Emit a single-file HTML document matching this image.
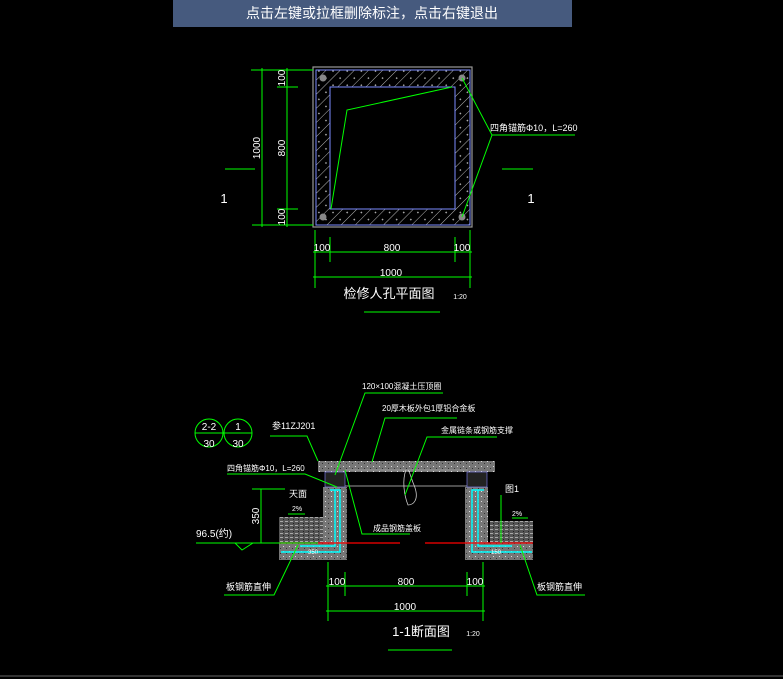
<!DOCTYPE html>
<html><head><meta charset="utf-8"><style>
html,body{margin:0;padding:0;background:#000;width:783px;height:679px;overflow:hidden}
svg{display:block}
text{font-family:"Liberation Sans","Noto Sans CJK SC",sans-serif;fill:#fff}
</style></head><body>
<svg width="783" height="679" viewBox="0 0 783 679" xmlns="http://www.w3.org/2000/svg">
<defs>
<pattern id="h" width="10" height="10" patternUnits="userSpaceOnUse" patternTransform="rotate(45)">
<line x1="0" y1="0" x2="0" y2="10" stroke="#ccc" stroke-width="0.9"/>
<rect x="5" y="4" width="1.5" height="1.5" fill="#aaa"/>
</pattern>
<pattern id="d" width="6" height="5" patternUnits="userSpaceOnUse">
<rect width="6" height="5" fill="#777"/><rect x="1" y="1" width="1" height="1" fill="#ddd"/><rect x="4" y="3" width="1" height="1" fill="#333"/>
</pattern>
<pattern id="s" width="5" height="4" patternUnits="userSpaceOnUse">
<rect width="5" height="4" fill="#555"/><rect x="0" y="1" width="3" height="1" fill="#aaa"/><rect x="3" y="3" width="1" height="1" fill="#222"/>
</pattern>
</defs>
<rect x="173" y="0" width="399" height="27" fill="#465a7e"/>
<text x="372" y="18" font-size="14" text-anchor="middle">点击左键或拉框删除标注，点击右键退出</text>

<!-- PLAN -->
<g>
<path d="M316 70H470V225H316Z M330 87V209H455V87Z" fill="url(#h)" fill-rule="evenodd"/>
<rect x="313" y="67" width="159" height="160" fill="none" stroke="#999" stroke-width="1.2"/>
<rect x="316" y="70" width="154" height="155" fill="none" stroke="#7b8cff" stroke-width="1"/>
<rect x="330" y="87" width="125" height="122" fill="none" stroke="#7b8cff" stroke-width="1"/>
<g fill="#888"><circle cx="323" cy="78" r="3.5"/><circle cx="462" cy="78" r="3.5"/><circle cx="323" cy="217" r="3.5"/><circle cx="462" cy="217" r="3.5"/></g>
<g stroke="#0f0" stroke-width="1" fill="none">
<polyline points="452,87 347,110 331,209"/>
<polyline points="462,78 492,135 462,217"/><line x1="492" y1="135" x2="575" y2="135"/>
<line x1="251" y1="70" x2="313" y2="70"/><line x1="277" y1="87" x2="298" y2="87"/>
<line x1="277" y1="209" x2="298" y2="209"/><line x1="252" y1="225" x2="313" y2="225"/>
<line x1="262" y1="68" x2="262" y2="227"/><line x1="287" y1="68" x2="287" y2="227"/>
<line x1="315" y1="230" x2="315" y2="288"/><line x1="330" y1="237" x2="330" y2="262"/>
<line x1="455" y1="237" x2="455" y2="262"/><line x1="470" y1="230" x2="470" y2="288"/>
<line x1="313" y1="252" x2="472" y2="252"/><line x1="313" y1="277" x2="472" y2="277"/>
<line x1="225" y1="169" x2="255" y2="169"/><line x1="502" y1="169" x2="533" y2="169"/>
<line x1="364" y1="312" x2="440" y2="312"/>
</g>
<g font-size="10">
<text transform="translate(260,148) rotate(-90)" text-anchor="middle">1000</text>
<text transform="translate(285,148) rotate(-90)" text-anchor="middle">800</text>
<text transform="translate(285,78) rotate(-90)" text-anchor="middle">100</text>
<text transform="translate(285,217) rotate(-90)" text-anchor="middle">100</text>
<text x="322" y="251" text-anchor="middle">100</text>
<text x="392" y="251" text-anchor="middle">800</text>
<text x="462" y="251" text-anchor="middle">100</text>
<text x="391" y="276" text-anchor="middle">1000</text>
<text x="490" y="131" font-size="9">四角锚筋Φ10，L=260</text>
</g>
<text x="224" y="203" font-size="13" text-anchor="middle">1</text>
<text x="531" y="203" font-size="13" text-anchor="middle">1</text>
<text x="389" y="298" font-size="13" text-anchor="middle">检修人孔平面图</text>
<text x="460" y="299" font-size="7" text-anchor="middle">1:20</text>
</g>

<!-- SECTION -->
<g>
<rect x="318" y="461" width="177" height="11" fill="url(#d)"/>
<g stroke="#999" stroke-width="1"><line x1="345" y1="470" x2="468" y2="470"/><line x1="345" y1="486" x2="468" y2="486"/></g>
<rect x="279" y="517" width="44" height="26" fill="url(#s)"/>
<rect x="490" y="521" width="43" height="22" fill="url(#s)"/>
<path d="M323 487H347V560H279V543H323Z" fill="url(#d)"/>
<path d="M465 487H488V543H533V560H465Z" fill="url(#d)"/>
<rect x="325" y="472" width="20" height="15" fill="#222" stroke="#88f" stroke-width="0.6"/>
<rect x="467" y="472" width="20" height="15" fill="#222" stroke="#88f" stroke-width="0.6"/>
<g stroke="#0ff" stroke-width="1.5" fill="none">
<polyline points="330,490 340,490 340,552 281,552"/><polyline points="335,490 335,546 300,546"/>
<polyline points="484,490 472,490 472,552 532,552"/><polyline points="478,490 478,546 512,546"/>
</g>
<g stroke="#f00" stroke-width="1.2"><line x1="279" y1="543" x2="400" y2="543"/><line x1="425" y1="543" x2="533" y2="543"/></g>
<g stroke="#ccc" fill="none" stroke-width="0.8"><path d="M406 470C402 480 404 495 408 505C413 505 420 500 414 485C411 478 410 472 408 470"/></g>
<g stroke="#0f0" stroke-width="1" fill="none">
<circle cx="209" cy="433" r="14"/><circle cx="238" cy="433" r="14"/>
<line x1="195" y1="433" x2="252" y2="433"/>
<polyline points="270,436 307,436 318,461"/>
<polyline points="443,393 365,393 335,475"/>
<polyline points="457,418 385,418 372,462"/>
<polyline points="497,437 427,437 405,495"/>
<polyline points="227,474 305,474 337,487"/>
<polyline points="410,534 362,534 345,470"/>
<line x1="261" y1="489" x2="261" y2="543"/><line x1="252" y1="489" x2="285" y2="489"/>
<line x1="196" y1="543" x2="318" y2="543"/><polyline points="235,543 242,550 253,543"/>
<line x1="288" y1="514" x2="305" y2="514"/><line x1="512" y1="518" x2="528" y2="518"/>
<polyline points="224,595 274,595 298,545"/><polyline points="585,595 537,595 520,545"/>
<polyline points="501,495 501,543"/>
<line x1="328" y1="562" x2="328" y2="621"/><line x1="345" y1="572" x2="345" y2="596"/>
<line x1="467" y1="572" x2="467" y2="596"/><line x1="483" y1="562" x2="483" y2="621"/>
<line x1="326" y1="586" x2="485" y2="586"/><line x1="326" y1="611" x2="485" y2="611"/>
<line x1="388" y1="650" x2="452" y2="650"/>
</g>
<g font-size="10">
<text x="209" y="430" text-anchor="middle">2-2</text><text x="209" y="447" text-anchor="middle">30</text>
<text x="238" y="430" text-anchor="middle">1</text><text x="238" y="447" text-anchor="middle">30</text>
<text x="272" y="429" font-size="9">参11ZJ201</text>
<text x="362" y="389" font-size="8">120×100混凝土压顶圈</text>
<text x="382" y="411" font-size="8">20厚木板外包1厚铝合金板</text>
<text x="441" y="433" font-size="8">金属链条或钢筋支撑</text>
<text x="227" y="471" font-size="8">四角锚筋Φ10，L=260</text>
<text x="373" y="531" font-size="8">成品钢筋盖板</text>
<text transform="translate(259,516) rotate(-90)" text-anchor="middle">350</text>
<text x="289" y="497" font-size="9">天面</text>
<text x="292" y="511" font-size="7">2%</text><text x="512" y="516" font-size="7">2%</text>
<text x="505" y="492" font-size="9">图1</text>
<text x="196" y="537">96.5(约)</text>
<text x="308" y="554" font-size="6">350</text><text x="491" y="554" font-size="6">150</text>
<text x="226" y="590" font-size="9">板钢筋直伸</text><text x="537" y="590" font-size="9">板钢筋直伸</text>
<text x="337" y="585" text-anchor="middle">100</text>
<text x="406" y="585" text-anchor="middle">800</text>
<text x="475" y="585" text-anchor="middle">100</text>
<text x="405" y="610" text-anchor="middle">1000</text>
</g>
<text x="421" y="636" font-size="13" text-anchor="middle">1-1断面图</text>
<text x="473" y="636" font-size="7" text-anchor="middle">1:20</text>
</g>
<line x1="0" y1="676" x2="783" y2="676" stroke="#666"/>
</svg>
</body></html>
